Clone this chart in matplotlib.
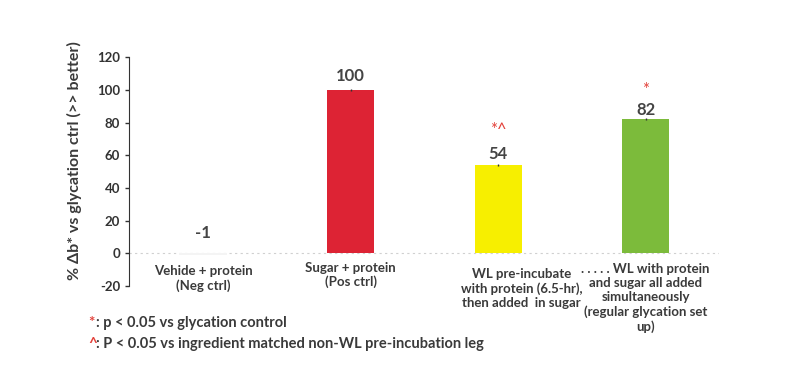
from matplotlib import pyplot as plt
import matplotlib

matplotlib.rcParams['font.family'] = ['Lato', 'DejaVu Sans']
matplotlib.rcParams['axes.unicode_minus'] = False

# data
categories = ["Vehide + protein\n(Neg ctrl)",
              "Sugar + protein\n(Pos ctrl)",
              "WL pre-incubate\nwith protein (6.5-hr),\nthen added  in sugar",
              ". . . . . WL with protein\nand sugar all added\nsimultaneously\n(regular glycation set\nup)"]
values = [-1, 100, 54, 82]
errors = [0.4, 0.8, 0.6, 0.6]
marks = ["", "", "*^", "*"]
colors = ["#f4f4f4", "#dd2334", "#f7ef00", "#7cbb3b"]

txt = "#3a3a3a"
red = "#e3413a"

fig = plt.figure(figsize=(7.88, 3.86), dpi=100)
ax = fig.add_axes([0.164, 0.259, 0.749, 0.593])

x = range(len(values))
ax.bar(x, values, width=0.32, color=colors, zorder=2)
ax.errorbar(x[1:], values[1:], yerr=errors[1:], fmt="none", ecolor="#333333",
            elinewidth=1, capsize=0, zorder=3)
ax.axhline(0, color="#d0d0d0", lw=0.8, ls=(0, (2, 3)), zorder=1)

val_off = [9, 4, 2, 1]
mark_off = [0, 0, 25, 21]
for i, v in enumerate(values):
    top = max(v, 0)
    ax.annotate(str(v), (i, top), xytext=(0, val_off[i]), textcoords="offset points",
                ha="center", va="bottom", fontsize=12, fontweight="bold", color="#444444")
    if marks[i]:
        ax.annotate(marks[i], (i, top), xytext=(0, mark_off[i]), textcoords="offset points",
                    ha="center", va="center", fontsize=12, color=red)

ax.set_xlim(-0.5, 3.5)
ax.set_ylim(-20, 120)
ax.set_yticks(range(-20, 121, 20))
for lab in ax.get_yticklabels():
    lab.set_fontweight("bold")
ax.tick_params(axis="y", labelsize=9.5, colors="#333333", length=3, width=1, direction="out")
ax.tick_params(axis="x", length=0)
ax.set_xticks([])
for s in ["top", "right", "bottom"]:
    ax.spines[s].set_visible(False)
ax.spines["left"].set_color("#333333")

ax.set_ylabel("% Δb* vs glycation ctrl (>> better)", fontsize=11.5, fontweight="bold",
              color=txt)
ax.yaxis.set_label_coords(-0.080, 0.55)

# category labels under the chart
label_dx = [0, 0, 0.16, 0]
label_top = [-7, -5, -9, -6]
for i, c in enumerate(categories):
    ax.text(i + label_dx[i], label_top[i], c, ha="center", va="top",
            fontsize=9.5, fontweight="bold", color=txt, linespacing=1.2)

# footnotes
fig.text(0.112, 0.163, "*", color=red, fontsize=11, va="center", fontweight="bold")
fig.text(0.122, 0.163, ": p < 0.05 vs glycation control", color=txt, fontsize=10.5,
         va="center", fontweight="bold")
fig.text(0.112, 0.108, "^", color=red, fontsize=11, va="center", fontweight="bold")
fig.text(0.122, 0.108, ": P < 0.05 vs ingredient matched non-WL pre-incubation leg", color=txt,
         fontsize=10.5, va="center", fontweight="bold")

plt.savefig("out.png", dpi=100, facecolor="white")
